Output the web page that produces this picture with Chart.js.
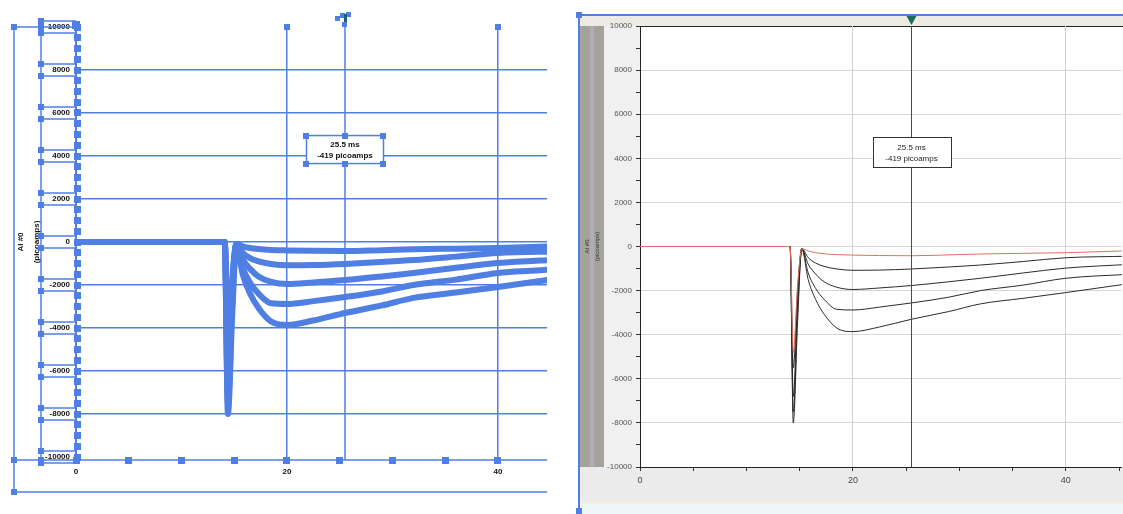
<!DOCTYPE html>
<html>
<head>
<meta charset="utf-8">
<script src="https://cdn.jsdelivr.net/npm/chart.js@4.4.1/dist/chart.umd.min.js"></script>
<style>
  html, body { margin: 0; padding: 0; background: #fff; overflow: hidden; }
  #wrap { position: relative; width: 1123px; height: 514px; }
  canvas { position: absolute; top: 0; }
  #left { left: 0; }
  #right { left: 560px; }
</style>
</head>
<body>
<div id="wrap">
  <canvas id="left" width="560" height="514"></canvas>
  <canvas id="right" width="563" height="514"></canvas>
</div>
<script>
// sweep time (ms) and the five current traces (picoamps)
const timeMs   = [0, 14.1, 14.4, 14.8, 15.2, 15.8, 16.5, 17.3, 18.5, 20, 22.5, 25.5, 29, 32, 36, 40, 46];
const redTrace = [0, 0, -4800, -1800, -100, -200, -280, -330, -370, -390, -410, -419, -380, -340, -310, -280, -190];
const trace1   = [0, 0, -5500, -2000, -100, -500, -750, -900, -1020, -1080, -1070, -1020, -930, -840, -680, -510, -440];
const trace2   = [0, 0, -6800, -2500, -100, -800, -1250, -1600, -1850, -1950, -1880, -1770, -1600, -1440, -1200, -980, -810];
const trace3   = [0, 0, -7500, -3000, -100, -1200, -1900, -2400, -2850, -2880, -2750, -2560, -2300, -2000, -1750, -1440, -1260];
const trace4   = [0, 0, -8000, -3500, -100, -1500, -2400, -3070, -3700, -3860, -3650, -3300, -2950, -2600, -2350, -2090, -1680];

const yLabelValues = [10000, 8000, 6000, 4000, 2000, 0, -2000, -4000, -6000, -8000, -10000];
const xLabelValues = [0, 20, 40];
const cursorMs = 25.5;
const cursorText = ['25.5 ms', '-419 picoamps'];
const axisTitle = ['AI #0', '(picoamps)'];

const BLUE = '#4f7fe3';
const allTraces = [redTrace, trace1, trace2, trace3, trace4];
const toPoints = vals => vals.map((v, i) => ({ x: timeMs[i], y: v }));

function line(ctx, x1, y1, x2, y2) {
  ctx.beginPath(); ctx.moveTo(x1, y1); ctx.lineTo(x2, y2); ctx.stroke();
}
function handle(ctx, x, y, s) {
  ctx.fillStyle = BLUE;
  ctx.fillRect(Math.round(x - s / 2), Math.round(y - s / 2), s, s);
}

// ---------- left panel: selected outline copy ----------
const leftDecor = {
  id: 'leftDecor',
  afterDraw(chart) {
    const { ctx, scales: { x, y } } = chart;
    const x0 = x.left, yTop = y.top, yAxis = 460;
    ctx.save();
    ctx.strokeStyle = BLUE;
    ctx.lineWidth = 1.5;
    line(ctx, 14, yTop, 14, 492);
    line(ctx, 14, yTop, x0, yTop);
    line(ctx, 41, yTop, 41, yAxis);
    line(ctx, 14, yAxis, x.right, yAxis);
    line(ctx, 14, 492, x.right, 492);
    ctx.lineWidth = 2;
    line(ctx, x0, yTop, x0, yAxis);
    ctx.lineWidth = 1.5;
    const cx = x.getPixelForValue(cursorMs);
    line(ctx, cx, 18, cx, yAxis);

    // tick label boxes
    yLabelValues.forEach(v => {
      const py = y.getPixelForValue(v);
      line(ctx, 41, py - 6, x0, py - 6);
      line(ctx, 41, py + 6, x0, py + 6);
      handle(ctx, 41, py - 6, 6);
      handle(ctx, 41, py + 6, 6);
    });
    // handles down the y axis
    for (let v = -10000; v <= 10000; v += 500) handle(ctx, x0 + 1, y.getPixelForValue(v), 7);
    // handles along the x axis
    for (let t = 0; t <= 40; t += 5) handle(ctx, x.getPixelForValue(t), yAxis, 7);
    handle(ctx, 14, yTop, 6); handle(ctx, 14, yAxis, 6); handle(ctx, 14, 492, 6);
    handle(ctx, 41, yTop, 6); handle(ctx, 41, yAxis, 6);
    handle(ctx, x.getPixelForValue(20), yTop, 6);
    handle(ctx, x.getPixelForValue(40), yTop, 6);
    handle(ctx, x0, yTop - 2, 8);
    // cursor marker handles
    handle(ctx, cx - 7, 18, 5); handle(ctx, cx - 2, 15, 5); handle(ctx, cx + 4, 14, 5); handle(ctx, cx, 24, 5);
    ctx.fillStyle = '#1f5f77';
    ctx.fillRect(cx - 1, 14, 3, 8);

    // annotation box
    const by = y.getPixelForValue(4300);
    const bw = 77, bh = 28, bx = cx - bw / 2, bt = by - bh / 2;
    ctx.fillStyle = '#fff';
    ctx.fillRect(bx, bt, bw, bh);
    ctx.strokeRect(bx, bt, bw, bh);
    [[bx, bt], [cx, bt], [bx + bw, bt], [bx, bt + bh], [cx, bt + bh], [bx + bw, bt + bh]].forEach(p => handle(ctx, p[0], p[1], 6));
    ctx.fillStyle = '#111';
    ctx.font = 'bold 8px "Liberation Sans", Arial, sans-serif';
    ctx.textAlign = 'center';
    ctx.textBaseline = 'middle';
    ctx.fillText(cursorText[0], cx, bt + 9);
    ctx.fillText(cursorText[1], cx, bt + 20);
    ctx.restore();
  }
};

new Chart(document.getElementById('left'), {
  type: 'line',
  data: {
    datasets: allTraces.map(vals => ({
      data: toPoints(vals),
      borderColor: BLUE,
      borderWidth: 6,
      pointStyle: 'rect',
      pointRadius: 3,
      pointBackgroundColor: BLUE,
      pointBorderWidth: 0,
      cubicInterpolationMode: 'monotone'
    }))
  },
  options: {
    responsive: false,
    animation: false,
    events: [],
    layout: { padding: { top: 27, right: 13, bottom: 0, left: 0 } },
    plugins: { legend: { display: false }, tooltip: { enabled: false } },
    scales: {
      x: {
        type: 'linear', min: 0, max: 44.65,
        afterFit: s => { s.height = 57; },
        border: { display: false },
        grid: {
          drawTicks: false,
          lineWidth: 1.5,
          color: c => (c.tick && (c.tick.value === 20 || c.tick.value === 40)) ? BLUE : 'rgba(0,0,0,0)'
        },
        ticks: {
          stepSize: 5, includeBounds: false, autoSkip: false, maxRotation: 0, padding: 10,
          color: '#111', font: { family: 'Liberation Sans', size: 8, weight: 'bold' },
          callback: v => xLabelValues.includes(v) ? String(v) : ''
        }
      },
      y: {
        min: -10000, max: 10000,
        afterFit: s => { s.width = 76; },
        border: { display: false },
        title: {
          display: true, text: axisTitle, color: '#111', padding: { top: 13.5 },
          font: { family: 'Liberation Sans', size: 8, weight: 'bold', lineHeight: 1.9 }
        },
        grid: {
          drawTicks: false,
          lineWidth: 1.5,
          color: c => (c.tick && Math.abs(c.tick.value) < 10000) ? BLUE : 'rgba(0,0,0,0)'
        },
        ticks: {
          stepSize: 2000, padding: 6, color: '#111',
          font: { family: 'Liberation Sans', size: 8, weight: 'bold' },
          callback: v => yLabelValues.includes(v) ? String(v) : ''
        }
      }
    }
  },
  plugins: [leftDecor]
});

// ---------- right panel: the acquisition window ----------
const rightDecor = {
  id: 'rightDecor',
  beforeDraw(chart) {
    const { ctx, chartArea: a, width, height } = chart;
    ctx.save();
    ctx.fillStyle = '#ebebe4';
    ctx.fillRect(18, 15, width - 18, a.top - 15);
    ctx.fillStyle = '#a3a39b';
    ctx.fillRect(19, a.top, 25, a.bottom - a.top);
    ctx.fillStyle = '#b3acb4';
    ctx.fillRect(30, a.top, 4, a.bottom - a.top);
    ctx.fillStyle = '#f0f0f0';
    ctx.fillRect(44, a.top, a.left - 44, a.bottom - a.top);
    ctx.fillStyle = '#ffffff';
    ctx.fillRect(a.left, a.top, a.right - a.left, a.bottom - a.top);
    ctx.fillStyle = '#ebebeb';
    ctx.fillRect(19, a.bottom, width - 19, 505 - a.bottom);
    ctx.fillStyle = '#f6f1dc';
    ctx.fillRect(19, 502, width - 19, 2);
    ctx.fillStyle = '#eef5f8';
    ctx.fillRect(19, 504, width - 19, height - 504);
    ctx.strokeStyle = BLUE;
    ctx.lineWidth = 2;
    line(ctx, 19, 15, width, 15);
    line(ctx, 19, 15, 19, 512);
    handle(ctx, 19, 15, 6);
    handle(ctx, 19, 511, 6);
    ctx.strokeStyle = '#222';
    ctx.lineWidth = 1;
    line(ctx, a.left, a.top + 0.5, width, a.top + 0.5);
    ctx.restore();
  },
  afterDatasetsDraw(chart) {
    const { ctx, chartArea: a, scales: { x, y } } = chart;
    const cx = Math.round(x.getPixelForValue(cursorMs)) + 0.5;
    ctx.save();
    ctx.strokeStyle = '#4a4a4a';
    ctx.lineWidth = 1;
    line(ctx, cx, a.top, cx, a.bottom);
    ctx.fillStyle = '#1d6b58';
    ctx.beginPath();
    ctx.moveTo(cx - 5, 16); ctx.lineTo(cx + 5, 16); ctx.lineTo(cx, 25); ctx.closePath();
    ctx.fill();

    const by = y.getPixelForValue(4300);
    const bw = 78, bh = 30, bx = Math.round(cx - bw / 2) + 0.5, bt = Math.round(by - bh / 2) + 0.5;
    ctx.fillStyle = '#fff';
    ctx.fillRect(bx, bt, bw, bh);
    ctx.strokeStyle = '#333';
    ctx.strokeRect(bx, bt, bw, bh);
    ctx.fillStyle = '#222';
    ctx.font = '8px "Liberation Sans", Arial, sans-serif';
    ctx.textAlign = 'center';
    ctx.textBaseline = 'middle';
    ctx.fillText(cursorText[0], cx, bt + 10);
    ctx.fillText(cursorText[1], cx, bt + 21);
    ctx.restore();
  }
};

const traceColors = ['#d9735f', '#2b2b2b', '#2b2b2b', '#2b2b2b', '#2b2b2b'];

new Chart(document.getElementById('right'), {
  type: 'line',
  data: {
    datasets: allTraces.map((vals, i) => ({
      data: toPoints(vals),
      borderColor: traceColors[i],
      borderWidth: 1,
      pointRadius: 0,
      cubicInterpolationMode: 'monotone'
    }))
  },
  options: {
    responsive: false,
    animation: false,
    events: [],
    layout: { padding: { top: 26, right: 0, bottom: 0, left: 0 } },
    plugins: { legend: { display: false }, tooltip: { enabled: false } },
    scales: {
      x: {
        type: 'linear', min: 0, max: 45.27,
        afterFit: s => { s.height = 47; },
        border: { color: '#222', width: 1 },
        grid: {
          tickLength: 4,
          tickColor: '#333',
          color: c => (c.tick && (c.tick.value === 20 || c.tick.value === 40)) ? '#cfcfcf' : 'rgba(0,0,0,0)'
        },
        ticks: {
          stepSize: 5, includeBounds: false, autoSkip: false, maxRotation: 0, padding: 4,
          color: '#444', font: { family: 'Liberation Sans', size: 9 },
          callback: v => xLabelValues.includes(v) ? String(v) : ''
        }
      },
      y: {
        min: -10000, max: 10000,
        afterFit: s => { s.width = 80; },
        border: { color: '#222', width: 1 },
        title: {
          display: true, text: axisTitle, color: '#333', padding: { top: 21.5 },
          font: { family: 'Liberation Sans', size: 6, lineHeight: 1.8 }
        },
        grid: {
          tickLength: 4,
          tickColor: '#333',
          color: c => (c.tick && c.tick.value % 2000 === 0 && Math.abs(c.tick.value) < 10000) ? '#d6d6d6' : 'rgba(0,0,0,0)'
        },
        ticks: {
          stepSize: 1000, autoSkip: false, padding: 4, color: '#555',
          font: { family: 'Liberation Sans', size: 8 },
          callback: v => yLabelValues.includes(v) ? String(v) : ''
        }
      }
    }
  },
  plugins: [rightDecor]
});
</script>
</body>
</html>
